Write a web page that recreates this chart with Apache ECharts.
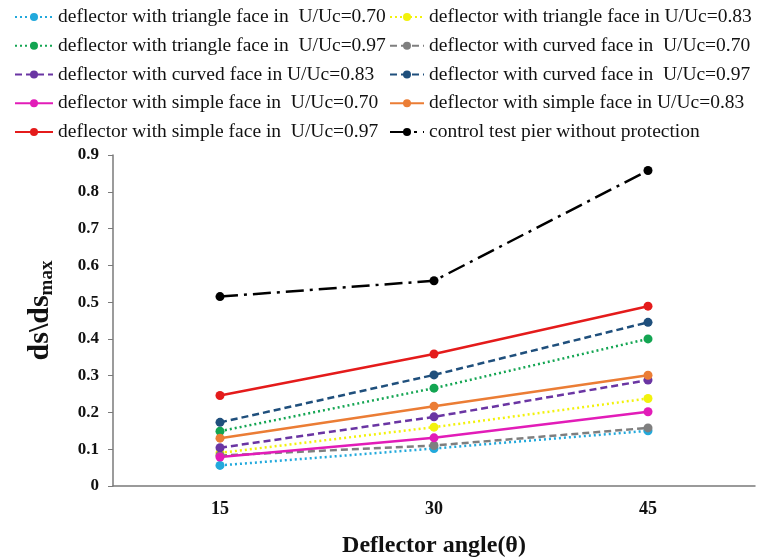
<!DOCTYPE html>
<html>
<head>
<meta charset="utf-8">
<script src="https://cdn.jsdelivr.net/npm/echarts@6/dist/echarts.min.js"></script>
<style>
  html, body { margin: 0; padding: 0; background: #fff; }
  #chart { width: 763px; height: 559px; }
</style>
</head>
<body>
<div id="chart"></div>
<script>
// Deflector angles (x categories)
const angles = ['15', '30', '45'];

// Relative scour depth ds/ds_max for each configuration
const triangle070 = [0.056, 0.102, 0.150];
const triangle083 = [0.090, 0.160, 0.238];
const triangle097 = [0.149, 0.266, 0.400];
const curved070   = [0.083, 0.110, 0.158];
const curved083   = [0.104, 0.188, 0.288];
const curved097   = [0.173, 0.302, 0.445];
const simple070   = [0.079, 0.131, 0.202];
const simple083   = [0.130, 0.217, 0.301];
const simple097   = [0.246, 0.359, 0.489];
const control     = [0.515, 0.558, 0.858];

const yTicks = { min: 0, max: 0.9, interval: 0.1 };

const seriesDefs = [
  { name: 'deflector with triangle face in  U/Uc=0.70', data: triangle070, color: '#22a9dc', type: [2, 3] },
  { name: 'deflector with triangle face in U/Uc=0.83',  data: triangle083, color: '#f2f20c', type: [2, 3] },
  { name: 'deflector with triangle face in  U/Uc=0.97', data: triangle097, color: '#13a552', type: [2, 3] },
  { name: 'deflector with curved face in  U/Uc=0.70',   data: curved070,   color: '#7f7f7f', type: [7, 4] },
  { name: 'deflector with curved face in U/Uc=0.83',    data: curved083,   color: '#6a35a3', type: [7, 4] },
  { name: 'deflector with curved face in  U/Uc=0.97',   data: curved097,   color: '#1f4f7c', type: [7, 4] },
  { name: 'deflector with simple face in  U/Uc=0.70',   data: simple070,   color: '#e21cb8', type: 'solid' },
  { name: 'deflector with simple face in U/Uc=0.83',    data: simple083,   color: '#eb7d35', type: 'solid' },
  { name: 'deflector with simple face in  U/Uc=0.97',   data: simple097,   color: '#e41b1b', type: 'solid' },
  { name: 'control test pier without protection',        data: control,     color: '#000000', type: [18, 6, 3, 6] }
];

const series = seriesDefs.map(d => ({
  name: d.name,
  type: 'line',
  data: d.data,
  symbol: 'circle',
  symbolSize: 9,
  color: d.color,
  itemStyle: { color: d.color },
  lineStyle: { color: d.color, width: 2.5, type: d.type },
  z: 3
}));

const legendText = { fontFamily: 'Liberation Serif', fontSize: 19.5, color: '#111' };
const leftNames = [0, 2, 4, 6, 8].map(i => seriesDefs[i].name);
const rightNames = [1, 3, 5, 7, 9].map(i => seriesDefs[i].name);

const chart = echarts.init(document.getElementById('chart'), null, { renderer: 'canvas' });
chart.setOption({
  animation: false,
  backgroundColor: '#fff',
  legend: [
    { data: leftNames, left: 14, top: 7, orient: 'vertical', itemGap: 8.75, itemWidth: 38, itemHeight: 10,
      padding: 0, textStyle: legendText },
    { data: rightNames, left: 389, top: 7, orient: 'vertical', itemGap: 8.75, itemWidth: 34, itemHeight: 10,
      padding: 0, textStyle: legendText }
  ],
  grid: { left: 113, right: 8, top: 155, bottom: 73, containLabel: false, outerBoundsMode: 'none' },
  xAxis: {
    type: 'category',
    data: angles,
    boundaryGap: true,
    axisLine: { lineStyle: { color: '#7a7a7a', width: 1.5 } },
    axisTick: { show: false },
    axisLabel: { margin: 14, fontFamily: 'Liberation Serif', fontWeight: 'bold', fontSize: 18, color: '#111' },
    name: 'Deflector angle(θ)',
    nameLocation: 'middle',
    nameGap: 48,
    nameTextStyle: { fontFamily: 'Liberation Serif', fontWeight: 'bold', fontSize: 24, color: '#111' }
  },
  yAxis: {
    type: 'value',
    min: yTicks.min,
    max: yTicks.max,
    interval: yTicks.interval,
    splitLine: { show: false },
    axisLine: { show: true, lineStyle: { color: '#7a7a7a', width: 1.5 } },
    axisTick: { show: true, inside: false, length: 5, lineStyle: { color: '#7a7a7a' } },
    axisLabel: { margin: 14, fontFamily: 'Liberation Serif', fontWeight: 'bold', fontSize: 17, color: '#111',
      formatter: v => (Math.round(v * 10) / 10).toString() },
    name: '{a|ds\\ds}{b|max}',
    nameLocation: 'middle',
    nameGap: 56,
    nameRotate: 90,
    nameTextStyle: {
      padding: [0, 0, 0, 20],
      rich: {
        a: { fontFamily: 'Liberation Serif', fontWeight: 'bold', fontSize: 30, color: '#111' },
        b: { fontFamily: 'Liberation Serif', fontWeight: 'bold', fontSize: 19, color: '#111', padding: [15, 0, 0, 0] }
      }
    }
  },
  series: series
});
</script>
</body>
</html>
